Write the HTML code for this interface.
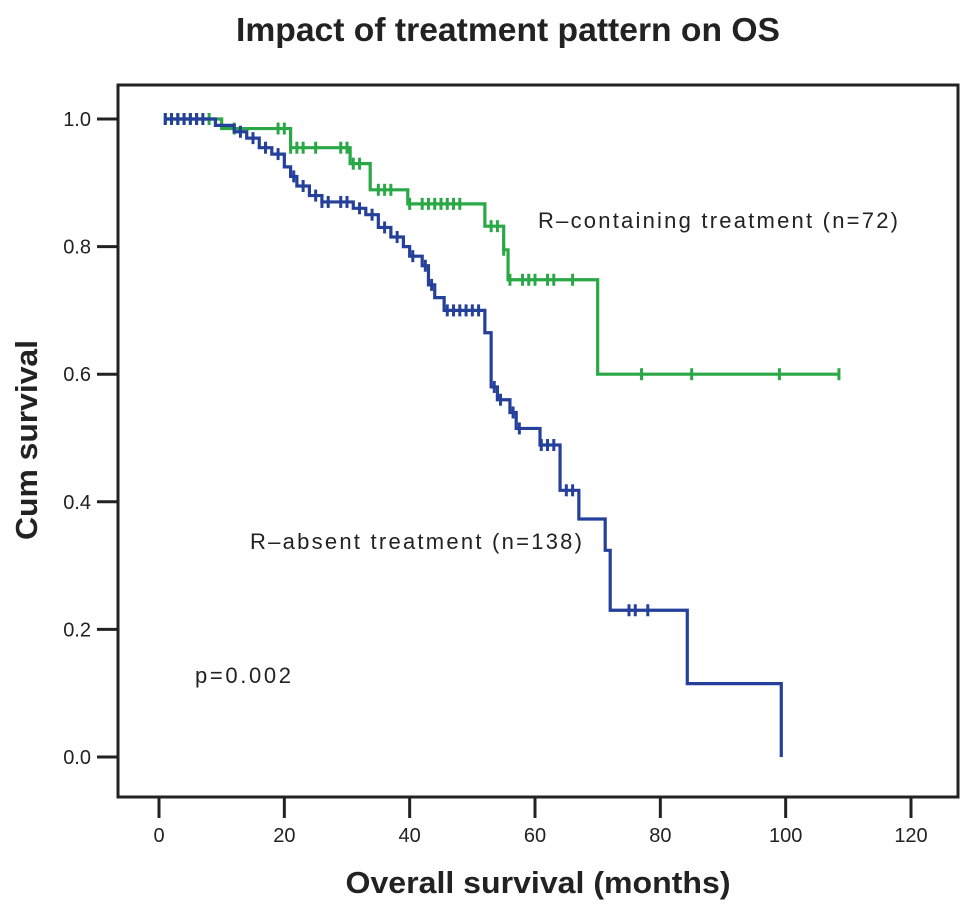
<!DOCTYPE html>
<html><head><meta charset="utf-8"><style>
body{margin:0;background:#fff;}
svg{display:block;font-family:"Liberation Sans",Arial,sans-serif;}
</style></head><body>
<svg id="chart" width="969" height="912" viewBox="0 0 969 912">
<text x="508" y="41" text-anchor="middle" font-size="33" font-weight="bold" fill="#222" textLength="544" lengthAdjust="spacingAndGlyphs">Impact of treatment pattern on OS</text>
<rect x="118" y="85" width="840" height="712" fill="none" stroke="#222" stroke-width="3"/>
<g id="axes"></g>
<g id="series"></g>
<text x="538" y="893" text-anchor="middle" font-size="31" font-weight="bold" fill="#222" textLength="385" lengthAdjust="spacingAndGlyphs">Overall survival (months)</text>
<text transform="translate(37,440) rotate(-90)" text-anchor="middle" font-size="31" font-weight="bold" fill="#222" textLength="200" lengthAdjust="spacingAndGlyphs">Cum survival</text>
<text x="538" y="228" font-size="22" fill="#222" textLength="360" lengthAdjust="spacing">R–containing  treatment  (n=72)</text>
<text x="250" y="549" font-size="22" fill="#222" textLength="332" lengthAdjust="spacing">R–absent  treatment (n=138)</text>
<text x="195" y="683" font-size="22" fill="#222" textLength="96" lengthAdjust="spacing">p=0.002</text>
</svg>
<script>
const xTicks = [0,20,40,60,80,100,120];
const yTicks = [0.0,0.2,0.4,0.6,0.8,1.0];
const greenTimes = [10,21,30.5,33.7,39.7,52,55,55.7,70];
const greenSurv = [0.985,0.955,0.93,0.889,0.867,0.832,0.795,0.748,0.6];
const greenCensor = [1,2,3,4,5,6,8,12,19,20,21,22,23,25,29,30,31,32,35,36,37,40,42,43,44,45,46,47,48,53,54,55,56,58,59,60,62,63,66,77,85,99,108.5];
const greenEnd = 108.5;
const blueTimes = [9,12,14,16,18,20,21,22,24,26,31,33,35,37,39,40,42,43,44,45.5,52,53,54,56,57,60.8,64,67,71.2,72,84.3,99.3];
const blueSurv = [0.99,0.98,0.97,0.955,0.945,0.925,0.91,0.895,0.88,0.87,0.86,0.85,0.83,0.815,0.8,0.785,0.77,0.74,0.72,0.7,0.665,0.58,0.56,0.54,0.515,0.489,0.418,0.373,0.324,0.23,0.115,0.0];
const blueCensor = [1,2,3,4,5,6,7,13,15,17,19,21.5,23,25,26,27,29,30,32,34,36,38,40.5,42.5,43.5,46,47,48,49,50,51,53.5,54.5,56.5,57.5,61,62,63,65,66,75,76,78];
const blueEnd = 99.3;

const NS='http://www.w3.org/2000/svg';
const X = t => 159 + t*(911-159)/120;
const Y = s => 757 - s*(757-119);
function mk(tag, attrs, parent){const e=document.createElementNS(NS,tag);for(const k in attrs)e.setAttribute(k,attrs[k]);parent.appendChild(e);return e;}
const axes=document.getElementById('axes');
xTicks.forEach(v=>{
  const l=mk('line',{x1:X(v),x2:X(v),y1:797,y2:818,stroke:'#222','stroke-width':3},axes);
  
  
  const t=mk('text',{x:X(v),y:842,'text-anchor':'middle','font-size':20,fill:'#222'},axes);
  t.textContent=v;
  
  
});
yTicks.forEach(v=>{
  const l=mk('line',{x1:97,x2:118,y1:Y(v),y2:Y(v),stroke:'#222','stroke-width':3},axes);
  
  
  const t=mk('text',{x:91,y:Y(v)+7,'text-anchor':'end','font-size':20,fill:'#222'},axes);
  t.textContent=v.toFixed(1);
  
  
});
function survAt(times,surv,t){let s=1;for(let i=0;i<times.length;i++){if(times[i]<=t)s=surv[i];}return s;}
const series=document.getElementById('series');
function draw(times,surv,censor,end,color,name){
  let d='M'+X(1)+','+Y(1);
  for(let i=0;i<times.length;i++){d+=' H'+X(times[i])+' V'+Y(surv[i]);}
  d+=' H'+X(end);
  const p=mk('path',{d:d,fill:'none',stroke:color,'stroke-width':3.2},series);
  
  
  censor.forEach(c=>{
    const y=Y(survAt(times,surv,c));
    const m=mk('line',{x1:X(c),x2:X(c),y1:y-6,y2:y+6,stroke:color,'stroke-width':3},series);
    
    
  });
}
draw(greenTimes,greenSurv,greenCensor,greenEnd,'#2aa845','green');
draw(blueTimes,blueSurv,blueCensor,blueEnd,'#24409a','blue');
</script>
</body></html>
